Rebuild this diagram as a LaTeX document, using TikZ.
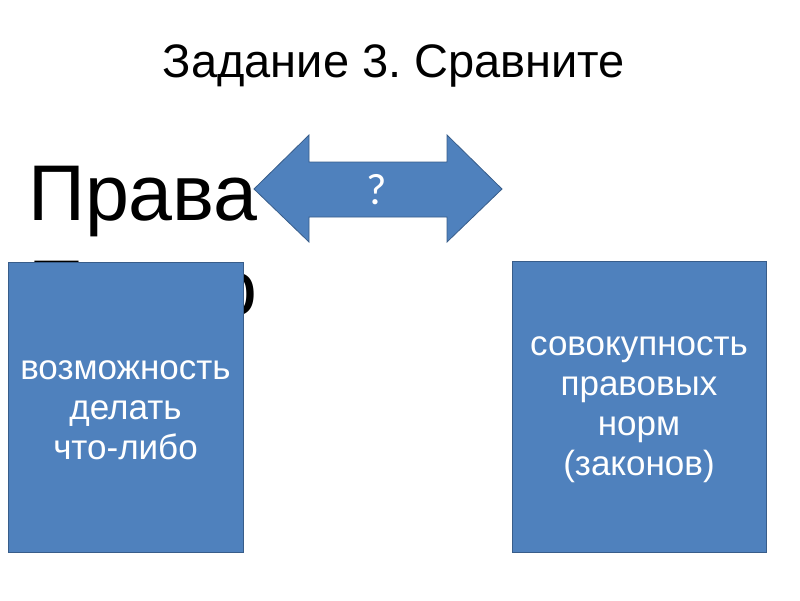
\documentclass[tikz,border=0pt]{standalone}
\usepackage{fontspec}
\setmainfont{Liberation Sans}
\newfontfamily\qfont{Carlito}
\usepackage{tikz}
\usepackage{xcolor}
\usetikzlibrary{positioning}
\definecolor{boxblue}{HTML}{4F81BD}
\definecolor{boxline}{HTML}{385D8A}
\frenchspacing

\begin{document}
\begin{tikzpicture}[
      x=1pt,y=-1pt,
      card/.style={rectangle,draw=boxline,fill=boxblue,line width=0.8pt},
      cardtext/.style={text=white,align=center,inner sep=0pt,font=\fontsize{35}{40}\selectfont},
      bigword/.style={anchor=base west,inner sep=0pt,font=\fontsize{79}{96}\selectfont}
    ]
    \useasboundingbox (0,0) rectangle (800,600);
    \node[anchor=base,inner sep=0pt,font=\fontsize{47}{50}\selectfont] (title) at (394,77) {Задание 3. Сравните};
    \node[bigword] (w1) at (28,220) {Права};
    \node[bigword] (w2) at (28,315) {Право};
    % boxes
    \node[card,minimum width=235,minimum height=290] (left) at (125.5,407) {};
    \node[cardtext,yshift=-3pt] (lefttext) at (left.center) {возможность\\делать\\что-либо};
    \node[card,minimum width=254,minimum height=291] (right) at (639,406.5) {};
    \node[cardtext,yshift=-3.5pt] (righttext) at (right.center) {совокупность\\правовых\\норм\\(законов)};
    % arrow
    \draw[boxline,fill=boxblue,line width=0.8pt] (254,189) -- (309,135) -- (309,162) -- (447,162) -- (447,135) -- (502,189)
      -- (447,242) -- (447,217) -- (309,217) -- (309,242) -- cycle;
    \node[text=white,inner sep=0pt,font=\qfont\fontsize{44}{48}\selectfont] (q) at (377,190) {?};
  \end{tikzpicture}
\end{document}
